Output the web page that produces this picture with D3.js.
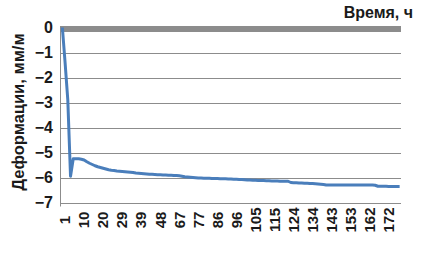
<!DOCTYPE html>
<html>
<head>
<meta charset="utf-8">
<script src="https://cdn.jsdelivr.net/npm/d3@7"></script>
<style>
  body { margin: 0; background: #fff; }
  text { font-family: "Liberation Sans", Arial, sans-serif; font-weight: bold; fill: #1a1a1a; }
</style>
</head>
<body>
<script>
const width = 426;
const height = 253;

// hour labels shown on the category axis (every 7th point)
const hourLabels = [1, 10, 20, 29, 39, 48, 67, 77, 86, 96, 105, 115, 124, 134, 143, 153, 162, 172];
const yTicks = [0, -1, -2, -3, -4, -5, -6, -7];

// strain, mm/m, one value per measurement
const strain = [
  0, -1.4, -2.9, -5.95, -5.25, -5.25, -5.25, -5.27, -5.3, -5.37,
  -5.43, -5.48, -5.53, -5.57, -5.6, -5.63, -5.66, -5.69, -5.71, -5.72,
  -5.74, -5.75, -5.76, -5.77, -5.78, -5.79, -5.8, -5.82, -5.83, -5.84,
  -5.85, -5.86, -5.87, -5.87, -5.88, -5.89, -5.89, -5.9, -5.9, -5.91,
  -5.91, -5.92, -5.92, -5.93, -5.95, -5.97, -5.98, -5.99, -6.0, -6.01,
  -6.02, -6.02, -6.03, -6.03, -6.03, -6.04, -6.04, -6.04, -6.05, -6.05,
  -6.05, -6.06, -6.06, -6.07, -6.07, -6.08, -6.08, -6.09, -6.1, -6.1,
  -6.11, -6.11, -6.12, -6.12, -6.12, -6.13, -6.13, -6.14, -6.14, -6.14,
  -6.15, -6.15, -6.15, -6.15, -6.2, -6.21, -6.21, -6.22, -6.22, -6.23,
  -6.23, -6.24, -6.24, -6.25, -6.26, -6.27, -6.28, -6.3, -6.3, -6.3,
  -6.3, -6.3, -6.3, -6.3, -6.3, -6.3, -6.3, -6.3, -6.3, -6.3,
  -6.3, -6.3, -6.3, -6.3, -6.3, -6.31, -6.35, -6.35, -6.35, -6.35,
  -6.36, -6.36, -6.36, -6.36, -6.36
];

const labelStep = 7;

let svg = d3.select("body").append("svg")
  .attr("width", width)
  .attr("height", height);

let margin = { top: 27.5, right: 25, bottom: 50.5, left: 61 };

let x = d3.scalePoint()
  .domain(d3.range(strain.length))
  .range([margin.left, width - margin.right])
  .padding(0.5);

let y = d3.scaleLinear()
  .domain([-7, 0])
  .range([height - margin.bottom, margin.top]);

// gridlines
svg.append("g")
  .selectAll("line")
  .data(yTicks.filter(d => d !== 0))
  .join("line")
  .attr("x1", margin.left)
  .attr("x2", width - margin.right)
  .attr("y1", d => Math.round(y(d)) + 0.5)
  .attr("y2", d => Math.round(y(d)) + 0.5)
  .attr("stroke", "#8c8c8c")
  .attr("stroke-width", 1);

// thick zero line (horizontal axis)
svg.append("line")
  .attr("x1", margin.left)
  .attr("x2", width - margin.right)
  .attr("y1", y(0) + 1.5)
  .attr("y2", y(0) + 1.5)
  .attr("stroke", "#8c8c8c")
  .attr("stroke-width", 6);

// left axis line
svg.append("line")
  .attr("x1", margin.left - 0.5)
  .attr("x2", margin.left - 0.5)
  .attr("y1", y(0) - 1.5)
  .attr("y2", y(-7) + 4)
  .attr("stroke", "#8c8c8c")
  .attr("stroke-width", 1);

// y labels
let yAxis = svg.append("g")
  .attr("transform", `translate(${margin.left}, 0)`)
  .call(d3.axisLeft(y).tickValues(yTicks).tickSize(0).tickPadding(8).tickFormat(d3.format("d")));
yAxis.select(".domain").remove();
yAxis.selectAll("text")
  .style("font-size", "16px")
  .style("font-family", "Liberation Sans, Arial, sans-serif")
  .style("font-weight", "bold")
  .attr("fill", "#1a1a1a");

// x labels, rotated
svg.append("g")
  .selectAll("text")
  .data(hourLabels)
  .join("text")
  .attr("transform", (d, i) => `translate(${x(1 + i * labelStep)}, 220) rotate(-90)`)
  .attr("text-anchor", "middle")
  .attr("dy", "0.35em")
  .style("font-size", "15px")
  .text(d => d);

// the strain line
let line = d3.line()
  .x((d, i) => x(i))
  .y(d => y(d));

svg.append("path")
  .datum(strain)
  .attr("d", line)
  .attr("fill", "none")
  .attr("stroke", "#4a7ebb")
  .attr("stroke-width", 3)
  .attr("stroke-linejoin", "round");

// titles
svg.append("text")
  .attr("x", 413)
  .attr("y", 18)
  .attr("text-anchor", "end")
  .style("font-size", "16px")
  .text("Время, ч");

svg.append("text")
  .attr("transform", `translate(24, ${(y(0) + y(-7)) / 2 - 3}) rotate(-90)`)
  .attr("text-anchor", "middle")
  .style("font-size", "16.5px")
  .text("Деформации, мм/м");
</script>
</body>
</html>
